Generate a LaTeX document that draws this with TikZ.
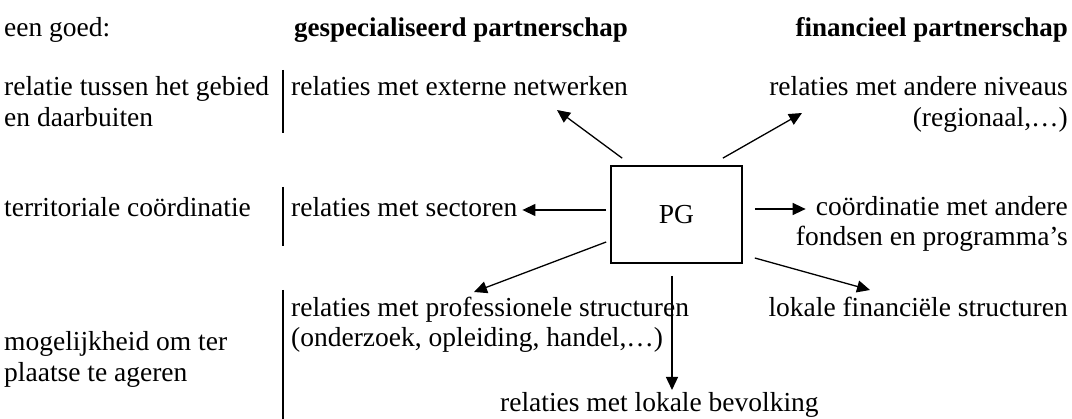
\documentclass[tikz,border=0pt]{standalone}
\usepackage{fontspec}
\setmainfont{Liberation Serif}
\usetikzlibrary{arrows.meta}
\begin{document}
\begin{tikzpicture}[x=1pt,y=-1pt,
  txt/.style={inner sep=0pt, font=\fontsize{27.5}{31}\selectfont},
  hdr/.style={inner sep=0pt, font=\fontsize{27}{31}\selectfont\bfseries},
  bar/.style={line width=1.7pt},
  arr/.style={line width=1.3pt, -{Triangle[length=13pt,width=12pt]}},
  box/.style={draw, line width=1.7pt, minimum width=131pt, minimum height=97pt, inner sep=0pt, font=\fontsize{27.5}{31}\selectfont}
]
\useasboundingbox (0,0) rectangle (1072,419);
% headers
\node[txt, anchor=base west] (h1) at (4,37) {een goed:};
\node[hdr, anchor=base west] (h2) at (294,37) {gespecialiseerd partnerschap};
\node[hdr, anchor=base east] (h3) at (1068,37) {financieel partnerschap};
% left column
\node[txt, anchor=base west] (l1a) at (4,96) {relatie tussen het gebied};
\node[txt, anchor=base west] (l1b) at (4,127) {en daarbuiten};
\node[txt, anchor=base west] (l2) at (4,217) {territoriale coördinatie};
\node[txt, anchor=base west] (l3a) at (4,351) {mogelijkheid om ter};
\node[txt, anchor=base west] (l3b) at (4,382) {plaatse te ageren};
% bars
\coordinate (b1t) at (283,70); \coordinate (b1b) at (283,133);
\coordinate (b2t) at (283,187); \coordinate (b2b) at (283,246);
\coordinate (b3t) at (283,290); \coordinate (b3b) at (283,419);
\draw[bar] (b1t) -- (b1b);
\draw[bar] (b2t) -- (b2b);
\draw[bar] (b3t) -- (b3b);
% middle texts
\node[txt, anchor=base west] (ext) at (291,96) {relaties met externe netwerken};
\node[txt, anchor=base west] (sect) at (291,217) {relaties met sectoren};
\node[txt, anchor=base west] (profa) at (291,317) {relaties met professionele structuren};
\node[txt, anchor=base west] (profb) at (291,347) {(onderzoek, opleiding, handel,…)};
\node[txt, anchor=base west] (bev) at (500,412) {relaties met lokale bevolking};
% right texts
\node[txt, anchor=base east] (niva) at (1068,96) {relaties met andere niveaus};
\node[txt, anchor=base east] (nivb) at (1068,127) {(regionaal,…)};
\node[txt, anchor=base east] (coa) at (1068,216) {coördinatie met andere};
\node[txt, anchor=base east] (cob) at (1068,246) {fondsen en programma’s};
\node[txt, anchor=base east] (fin) at (1068,317) {lokale financiële structuren};
% PG
\node[box] (pg) at (676.5,214.5) {PG};
% arrow tips
\coordinate (tul) at (557,110);
\coordinate (tur) at (802,113);
\coordinate (tll) at (474,292);
\coordinate (tlr) at (870,290);
\coordinate (tdn) at (672,390);
\draw[arr] ([shift={(12,-7)}]pg.north west) -- (tul);
\draw[arr] ([shift={(-20,-7)}]pg.north east) -- (tur);
\draw[arr] ([shift={(-4,-4.5)}]pg.west) -- ([shift={(5,-7)}]sect.base east);
\draw[arr] ([shift={(12,-5.5)}]pg.east) -- ([shift={(-10,-7)}]coa.base west);
\draw[arr] ([shift={(-4,27.5)}]pg.west) -- (tll);
\draw[arr] ([shift={(12,43.5)}]pg.east) -- (tlr);
\draw[arr] ([shift={(-4.5,12)}]pg.south) -- (tdn);
\end{tikzpicture}
\end{document}
